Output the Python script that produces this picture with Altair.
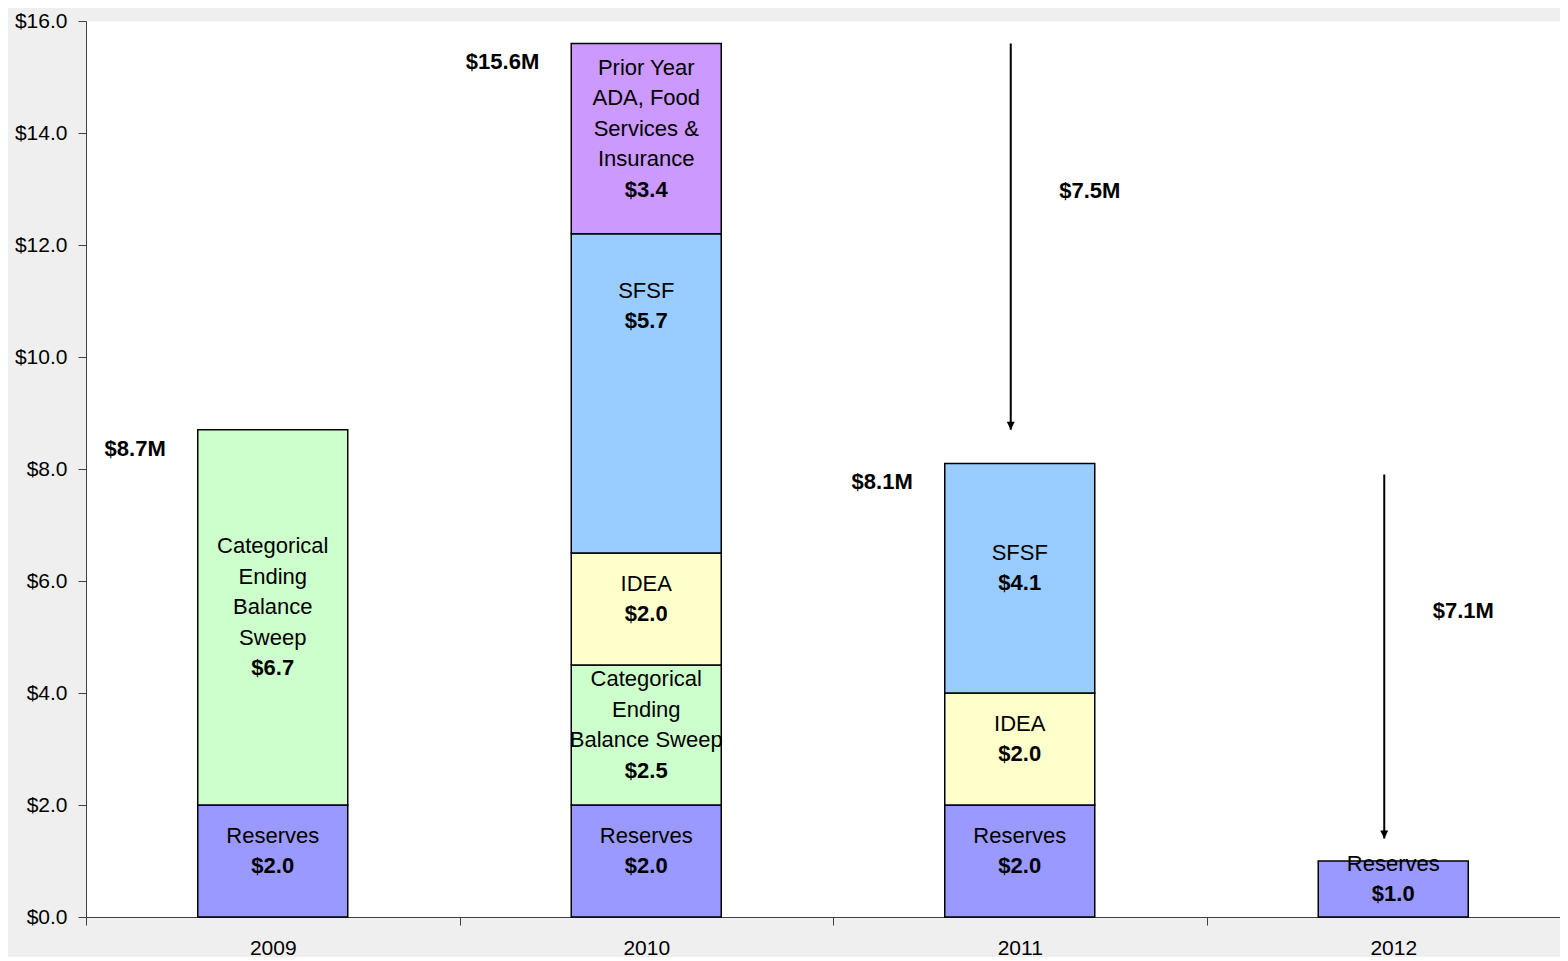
import altair as alt
import pandas as pd

# ---------------- data ----------------
years = ["2009", "2010", "2011", "2012"]

seg_year = ["2009", "2009", "2010", "2010", "2010", "2010", "2010", "2011", "2011", "2011", "2012"]
seg_category = ["Reserves", "Categorical", "Reserves", "Categorical", "IDEA", "SFSF", "Prior Year",
                "Reserves", "IDEA", "SFSF", "Reserves"]
seg_label = [
    "Reserves",
    "Categorical\nEnding\nBalance\nSweep",
    "Reserves",
    "Categorical\nEnding\nBalance Sweep",
    "IDEA",
    "SFSF",
    "Prior Year\nADA, Food\nServices &\nInsurance",
    "Reserves",
    "IDEA",
    "SFSF",
    "Reserves",
]
seg_value = [2.0, 6.7, 2.0, 2.5, 2.0, 5.7, 3.4, 2.0, 2.0, 4.1, 1.0]

category_order = ["Reserves", "Categorical", "IDEA", "SFSF", "Prior Year"]
category_colors = ["#9999FF", "#CCFFCC", "#FFFFCC", "#99CCFF", "#CC99FF"]

total_year = ["2009", "2010", "2011"]
total_value = [8.7, 15.6, 8.1]

arrow_year = ["2011", "2012"]
arrow_start = [15.6, 7.9]
arrow_end = [8.7, 1.4]
arrow_label = ["$7.5M", "$7.1M"]

y_ticks = [0, 2, 4, 6, 8, 10, 12, 14, 16]

FONT = "Liberation Sans"
LINE_H = 30.5

# ---------------- tables ----------------
seg = pd.DataFrame({
    "year": seg_year,
    "category": seg_category,
    "label": seg_label,
    "value": seg_value,
})
seg["order"] = seg["category"].map(category_order.index)
seg["nlines"] = (seg["label"].str.count("\n") + 2).astype(int)  # name lines + value line
seg["value_text"] = seg["value"].map(lambda v: f"${v:.1f}")

totals = pd.DataFrame({"year": total_year, "value": total_value})
totals["text"] = totals["value"].map(lambda v: f"${v:.1f}M")

arrows = pd.DataFrame({"year": arrow_year, "start": arrow_start, "end": arrow_end, "text": arrow_label})

# ---------------- encodings ----------------
x_axis = alt.Axis(title=None, labelAngle=0, tickBand="extent", tickSize=8, labelPadding=12,
                  labelFont=FONT, labelFontSize=21, labelColor="black", grid=False,
                  domainColor="#404040", tickColor="#404040", labelBaseline="top")
x_enc = alt.X("year:N", scale=alt.Scale(domain=years, range=[0, 1494], paddingInner=0, paddingOuter=0),
              axis=x_axis)

y_scale = alt.Scale(domain=[0, 16], nice=False)
y_axis = alt.Axis(title=None, values=y_ticks, labelExpr="'$' + format(datum.value, '.1f')",
                  grid=False, tickSize=8, labelPadding=11, labelFont=FONT, labelFontSize=21,
                  labelColor="black", domainColor="#404040", tickColor="#404040")

base = alt.Chart(seg).transform_stack(
    stack="value", groupby=["year"], sort=[alt.SortField("order")], as_=["y0", "y1"]
).transform_calculate(mid="(datum.y0 + datum.y1) / 2")

bars = base.mark_bar(stroke="black", strokeWidth=1.5, width=150).encode(
    x=x_enc,
    y=alt.Y("y0:Q", scale=y_scale, axis=y_axis),
    y2="y1:Q",
    color=alt.Color("category:N", scale=alt.Scale(domain=category_order, range=category_colors), legend=None),
)

special = "datum.year == '2010' && datum.category == 'SFSF'"


def seg_text(filter_expr, first_dy, n):
    t = base.transform_filter(filter_expr)
    common = dict(font=FONT, fontSize=22, lineBreak="\n", lineHeight=LINE_H,
                  baseline="middle", align="center", color="black")
    name = t.mark_text(dy=first_dy, **common).encode(
        x=x_enc, y=alt.Y("mid:Q", scale=y_scale, axis=y_axis), text="label:N")
    val = t.mark_text(dy=first_dy + (n - 1) * LINE_H, fontWeight="bold", **common).encode(
        x=x_enc, y=alt.Y("mid:Q", scale=y_scale, axis=y_axis), text="value_text:N")
    return name + val


label_layers = []
for n in sorted(int(v) for v in seg["nlines"].unique()):
    first_line = -10 - (n - 1) / 2 * LINE_H
    label_layers.append(seg_text(f"datum.nlines == {n} && !({special})", first_line, n))
label_layers.append(seg_text(special, -87.5 - LINE_H / 2, 2))

total_text = alt.Chart(totals).mark_text(font=FONT, fontSize=22, fontWeight="bold", dx=-107, dy=19,
                                         baseline="middle", align="right", color="black").encode(
    x=x_enc, y=alt.Y("value:Q", scale=y_scale, axis=y_axis), text="text:N")

arrow_base = alt.Chart(arrows).transform_calculate(mid="(datum.start + datum.end) / 2")
arrow_rule = arrow_base.mark_rule(color="black", strokeWidth=2, xOffset=-9).encode(
    x=x_enc, y=alt.Y("start:Q", scale=y_scale, axis=y_axis), y2="end:Q")
arrow_head = arrow_base.mark_point(shape="M-1,-2L1,-2L0,0Z", filled=True, size=64, color="black",
                                   opacity=1, xOffset=-9).encode(
    x=x_enc, y=alt.Y("end:Q", scale=y_scale, axis=y_axis))
arrow_text = arrow_base.mark_text(font=FONT, fontSize=22, fontWeight="bold", dx=70, dy=-46,
                                  baseline="middle", align="center", color="black").encode(
    x=x_enc, y=alt.Y("mid:Q", scale=y_scale, axis=y_axis), text="text:N")

chart = alt.layer(
    bars, *label_layers, total_text, arrow_rule, arrow_head, arrow_text
).properties(
    width=1474, height=896,
    padding={"left": 78, "top": 13, "right": 0, "bottom": 40},
    autosize=alt.AutoSizeParams(type="none"),
    background="#efefef",
).configure_view(fill="white", stroke="transparent")

chart.save("out.html", embed_options={"renderer": "svg", "actions": False})
